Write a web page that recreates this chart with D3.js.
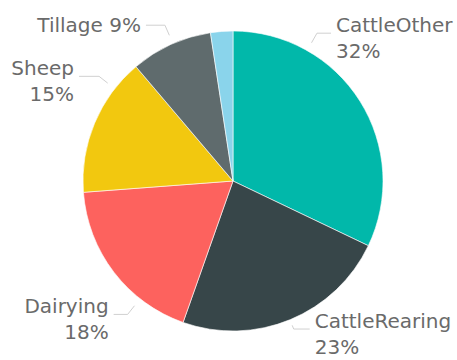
<html lang="en">
<head>
  <meta charset="UTF-8" />
  <title>Farm types</title>
  <script src="https://d3js.org/d3.v7.min.js"></script>
  <style>
    body { margin: 0; background: #fff; }
    text { font-family: "DejaVu Sans", sans-serif; font-size: 20px; fill: #6a6a6a; }
  </style>
</head>
<body>
  <svg id="pie" width="457" height="360"></svg>
  <script>
    // data
    const categories = ["CattleOther", "CattleRearing", "Dairying", "Sheep", "Tillage", "Other"];
    const shares = [32.1, 23.3, 18.4, 15.0, 8.8, 2.4];
    const colours = ["#01B8AA", "#374649", "#FD625E", "#F2C80F", "#5F6B6D", "#8AD4EB"];

    // leader line layout: bend angle (deg clockwise from top), bend distance
    // outside the pie, horizontal run. null = no label
    const labelAngles = [29.6, 157.7, 218.3, 308, 336.4, null];
    const bendOut = [20, 10, 20, 20, 20, 0];
    const runs = [14, 16, 14, 20, 19, 0];
    const twoLines = [true, true, true, true, false, false];

    const svg = d3.select("svg#pie");
    const cx = 233, cy = 181, radius = 150;

    const rows = categories.map((c, i) => ({ name: c, value: shares[i], colour: colours[i], i: i }));
    const total = d3.sum(shares);
    const pct = d3.format(".0f");

    const pie = d3.pie().sort(null).value(d => d.value);
    const arc = d3.arc().innerRadius(0).outerRadius(radius);

    const chart = svg.append("g").attr("transform", `translate(${cx},${cy})`);

    chart.selectAll("path")
      .data(pie(rows))
      .join("path")
      .attr("d", arc)
      .attr("fill", d => d.data.colour)
      .attr("stroke", "#fff")
      .attr("stroke-width", 0.6);

    const rad = a => a * Math.PI / 180;
    const pt = (a, r) => [r * Math.sin(rad(a)), -r * Math.cos(rad(a))];

    // labels + leader lines
    const labels = chart.append("g").attr("class", "labels");
    rows.forEach((d, i) => {
      const a = labelAngles[i];
      if (a === null) return;
      const right = a < 180;
      const p0 = pt(a, radius + Math.min(9, bendOut[i] - 4));
      const p1 = pt(a, radius + bendOut[i]);
      const p2 = [p1[0] + (right ? runs[i] : -runs[i]), p1[1]];
      labels.append("polyline")
        .attr("points", [p0, p1, p2].map(p => p.join(",")).join(" "))
        .attr("fill", "none")
        .attr("stroke", "#d0d0d0")
        .attr("stroke-width", 1);

      const tx = p2[0] + (right ? 5 : -5);
      const anchor = right ? "start" : "end";
      const p = pct(d.value / total * 100) + "%";
      if (twoLines[i]) {
        labels.append("text")
          .attr("x", tx).attr("y", p2[1] - 1)
          .attr("text-anchor", anchor)
          .text(d.name);
        labels.append("text")
          .attr("x", tx).attr("y", p2[1] + 25)
          .attr("text-anchor", anchor)
          .text(p);
      } else {
        labels.append("text")
          .attr("x", tx).attr("y", p2[1] + 7)
          .attr("text-anchor", anchor)
          .text(d.name + " " + p);
      }
    });
  </script>
</body>
</html>
